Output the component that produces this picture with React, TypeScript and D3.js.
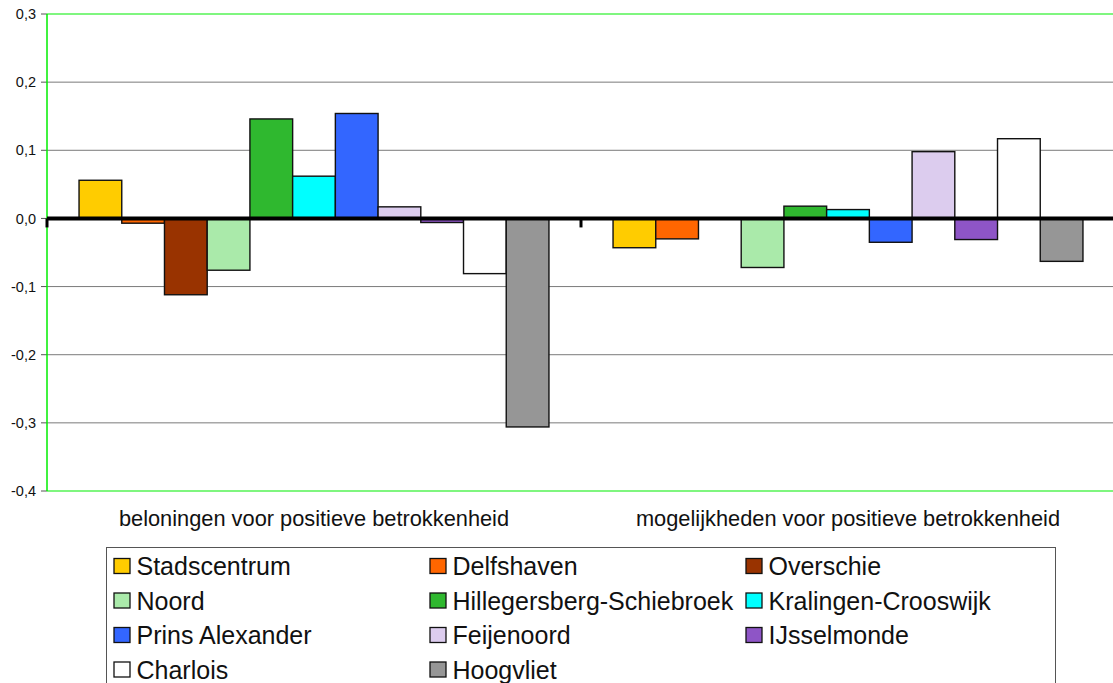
import React from "react";
import * as d3 from "d3";

const categories = [
  "beloningen voor positieve betrokkenheid",
  "mogelijkheden voor positieve betrokkenheid",
];
const districts = [
  "Stadscentrum",
  "Delfshaven",
  "Overschie",
  "Noord",
  "Hillegersberg-Schiebroek",
  "Kralingen-Crooswijk",
  "Prins Alexander",
  "Feijenoord",
  "IJsselmonde",
  "Charlois",
  "Hoogvliet",
];
const colors = [
  "#FFCC00",
  "#FF6600",
  "#993300",
  "#AAEAAA",
  "#2FB82F",
  "#00FFFF",
  "#3366FF",
  "#DCCCEE",
  "#8E55C6",
  "#FFFFFF",
  "#969696",
];
const beloningen: (number | null)[] = [0.056, -0.007, -0.112, -0.076, 0.146, 0.062, 0.154, 0.017, -0.006, -0.081, -0.306];
const mogelijkheden: (number | null)[] = [-0.043, -0.03, null, -0.072, 0.018, 0.013, -0.035, 0.098, -0.031, 0.117, -0.063];
const seriesByCategory = [beloningen, mogelijkheden];
const yTicks = [-0.4, -0.3, -0.2, -0.1, 0.0, 0.1, 0.2, 0.3];

const W = 1113;
const H = 683;
const FONT = "'Liberation Sans', Arial, sans-serif";

export default function App() {
  const left = 47;
  const right = 1115;
  const top = 14;
  const bottom = 491;

  const x0 = d3.scaleBand<string>().domain(categories).range([left, right]).paddingInner(0).paddingOuter(0);
  const x1 = d3
    .scaleBand<string>()
    .domain(districts)
    .range([0, x0.bandwidth()])
    .paddingInner(0)
    .paddingOuter(0.75);
  const y = d3.scaleLinear().domain([-0.4, 0.3]).range([bottom, top]);
  const fmt = (v: number) =>
    d3
      .format(".1f")(Math.abs(v) < 1e-9 ? 0 : v)
      .replace("\u2212", "-")
      .replace(".", ",");

  const legendCols = [114, 430, 746];
  const legendRows = [566, 600.5, 635, 669.5];

  return (
    <svg
      width={W}
      height={H}
      style={{ position: "absolute", left: 0, top: 0, background: "#fff" }}
      fontFamily={FONT}
    >
      <rect x={0} y={0} width={W} height={H} fill="#fff" />
      {/* gridlines */}
      {yTicks.map((t) =>
        t === 0.3 || t === -0.4 || t === 0 ? null : (
          <line key={"g" + t} x1={left} x2={W} y1={y(t)} y2={y(t)} stroke="#7a7a7a" strokeWidth={1} />
        )
      )}
      {/* frame lines (green) */}
      <line x1={left} x2={W} y1={y(0.3)} y2={y(0.3)} stroke="#00ee00" strokeWidth={1.2} />
      <line x1={left} x2={W} y1={y(-0.4)} y2={y(-0.4)} stroke="#00ee00" strokeWidth={1.2} />
      {/* y ticks and labels */}
      {yTicks.map((t) => (
        <g key={"t" + t}>
          <line x1={left - 6} x2={left} y1={y(t)} y2={y(t)} stroke="#555" strokeWidth={1} />
          <text x={36} y={y(t)} dy="0.35em" textAnchor="end" fontSize={14.5} fill="#111">
            {fmt(t)}
          </text>
        </g>
      ))}
      {/* bars */}
      {categories.map((c, ci) => (
        <g key={c} transform={`translate(${x0(c)},0)`}>
          {districts.map((d, di) => {
            const v = seriesByCategory[ci][di];
            if (v === null || v === undefined) return null;
            const y1 = y(Math.max(0, v));
            const y2 = y(Math.min(0, v));
            return (
              <rect
                key={d}
                x={x1(d)}
                y={y1}
                width={x1.bandwidth()}
                height={Math.max(0.5, y2 - y1)}
                fill={colors[di]}
                stroke="#111"
                strokeWidth={1.4}
              />
            );
          })}
        </g>
      ))}
      {/* left axis (green) */}
      <line x1={left} x2={left} y1={top} y2={bottom} stroke="#00ee00" strokeWidth={1.5} />
      {/* zero line */}
      <line x1={left} x2={W} y1={y(0)} y2={y(0)} stroke="#000" strokeWidth={4} />
      {/* category ticks */}
      {categories.map((c) => (
        <line key={"ct" + c} x1={x0(c)} x2={x0(c)} y1={y(0)} y2={y(0) + 9} stroke="#000" strokeWidth={3} />
      ))}
      {/* category labels */}
      {categories.map((c) => (
        <text
          key={"cl" + c}
          x={(x0(c) as number) + x0.bandwidth() / 2}
          y={518}
          dy="0.35em"
          textAnchor="middle"
          fontSize={21.8}
          fill="#111"
        >
          {c}
        </text>
      ))}
      {/* legend */}
      <rect x={106.5} y={547.5} width={949} height={150} fill="#fff" stroke="#555" strokeWidth={1} />
      {districts.map((d, i) => {
        const col = i % 3;
        const row = Math.floor(i / 3);
        const sx = legendCols[col];
        const cy = legendRows[row];
        return (
          <g key={"lg" + d}>
            <rect x={sx} y={cy - 7.5} width={16} height={15} fill={colors[i]} stroke="#111" strokeWidth={1.3} />
            <text x={sx + 22.5} y={cy} dy="0.36em" fontSize={25} fill="#111">
              {d}
            </text>
          </g>
        );
      })}
    </svg>
  );
}
